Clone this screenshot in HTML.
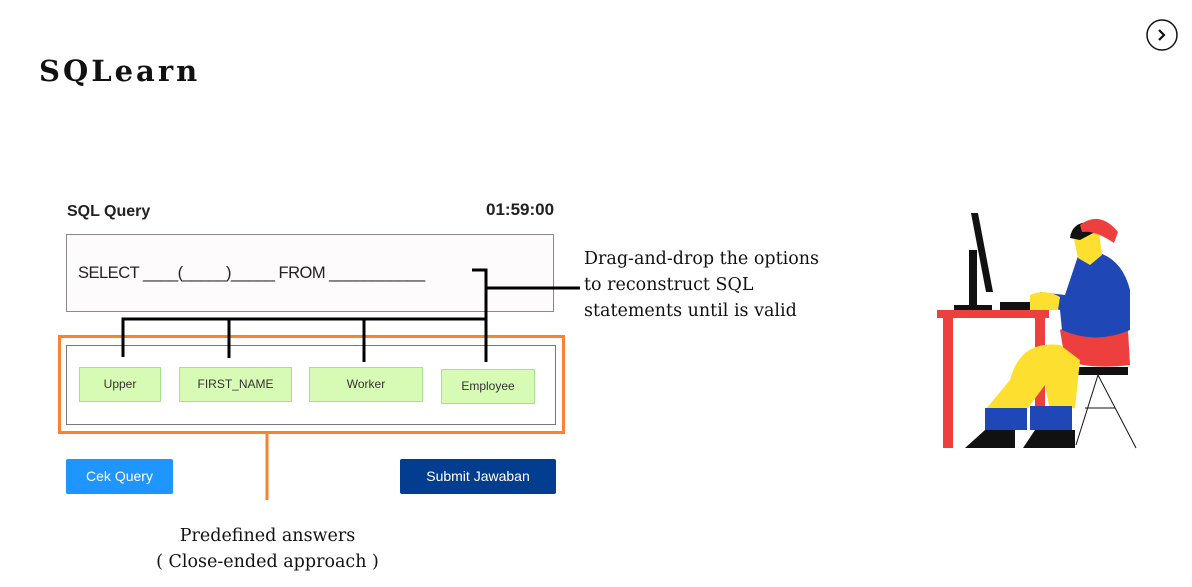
<!DOCTYPE html>
<html><head><meta charset="utf-8"><style>
body{margin:0;width:1192px;height:587px;background:#fff;position:relative;overflow:hidden;font-family:"Liberation Sans",sans-serif}
.a{position:absolute}
.t{font-family:"DejaVu Serif",serif;font-size:17.5px;color:#111;line-height:26px}
.chip{position:absolute;background:#d7fbb5;border:1.5px solid #a4e38a;font-size:12px;color:#333;text-align:center;box-sizing:border-box}
</style></head><body>
<div class="a" style="left:39px;top:54px;font-family:'DejaVu Serif',serif;font-weight:bold;font-size:29px;letter-spacing:3px;color:#111">SQLearn</div>
<svg class="a" style="left:1145px;top:19px" width="34" height="32"><circle cx="17" cy="16" r="15" fill="none" stroke="#111" stroke-width="1.5"/><path d="M14 11 L19 16 L14 21" fill="none" stroke="#111" stroke-width="2.2"/></svg>

<div class="a" style="left:67px;top:203px;font-size:16px;font-weight:bold;color:#222">SQL Query</div>
<div class="a" style="left:486px;top:200px;font-size:17px;font-weight:bold;color:#222">01:59:00</div>
<div class="a" style="left:66px;top:234px;width:488px;height:78px;border:1.5px solid #888;background:#fdfbfc;box-sizing:border-box"></div>
<div class="a" style="left:78px;top:264px;font-size:16.5px;color:#222;letter-spacing:-0.5px">SELECT ____(_____)_____ FROM ___________</div>
<div class="a" style="left:58px;top:335px;width:507px;height:99px;border:3px solid #fb8132;box-sizing:border-box"></div>
<div class="a" style="left:66px;top:345px;width:490px;height:80px;border:1.5px solid #777;box-sizing:border-box"></div>
<div class="chip" style="left:79px;top:367px;width:82px;height:35px;line-height:33px">Upper</div>
<div class="chip" style="left:179px;top:367px;width:113px;height:35px;line-height:33px">FIRST_NAME</div>
<div class="chip" style="left:309px;top:367px;width:114px;height:35px;line-height:33px">Worker</div>
<div class="chip" style="left:441px;top:369px;width:94px;height:35px;line-height:33px">Employee</div>
<div class="a" style="left:66px;top:459px;width:107px;height:35px;background:#1f95ff;color:#fff;font-size:14px;text-align:center;line-height:35px;border-radius:2px">Cek Query</div>
<div class="a" style="left:400px;top:459px;width:156px;height:35px;background:#033d8f;color:#fff;font-size:14px;text-align:center;line-height:35px;border-radius:2px">Submit Jawaban</div>

<svg class="a" style="left:0;top:0" width="1192" height="587">
<g stroke="#000" stroke-width="3" fill="none">
<path d="M472 270 H486 V362"/>
<path d="M486 288 H580"/>
<path d="M123 357 V319 H486"/>
<path d="M229 319 V358"/>
<path d="M364 319 V362"/>
</g>
<path d="M267 434 V500" stroke="#fb8132" stroke-width="3"/>
<g>
<rect x="937" y="310" width="112" height="8" fill="#ee3f3f"/>
<rect x="943" y="318" width="10" height="130" fill="#ee3f3f"/>
<rect x="1035" y="318" width="10" height="130" fill="#ee3f3f"/>
<polygon points="971,213 978,213 993,292 986,292" fill="#111"/>
<rect x="969" y="250" width="8" height="56" fill="#111"/>
<rect x="954" y="305" width="38" height="5" fill="#111"/>
<rect x="1000" y="302" width="33" height="8" fill="#111"/>
<rect x="1068" y="367" width="60" height="8" fill="#111"/>
<path d="M1098 375 L1076 445 M1098 375 L1136 448 M1085 408 H1115" stroke="#111" stroke-width="1"/>
<path d="M1060 330 Q1100 310 1128 330 L1130 365 Q1090 370 1065 360 Z" fill="#ee3f3f"/>
<path d="M1060 345 Q1020 340 1010 380 L985 410 L1025 412 L1045 385 L1050 410 L1075 408 L1080 360 Z" fill="#fde02f"/>
<rect x="985" y="408" width="42" height="22" fill="#1f47b5"/>
<rect x="1030" y="406" width="42" height="24" fill="#1f47b5"/>
<path d="M965 448 L985 430 H1015 V448 Z" fill="#111"/>
<path d="M1023 448 L1035 430 H1075 V448 Z" fill="#111"/>
<path d="M1080 250 Q1120 250 1130 290 L1130 330 Q1095 345 1062 330 L1060 310 L1035 305 L1040 292 L1065 295 Z" fill="#1f47b5"/>
<path d="M1030 295 Q1045 288 1060 297 L1058 310 L1030 310 Z" fill="#fde02f"/>
<path d="M1072 230 Q1080 222 1098 225 L1102 255 L1090 265 L1078 258 Z" fill="#fde02f"/>
<path d="M1070 238 Q1072 222 1090 222 L1095 232 L1080 240 Z" fill="#111"/>
<path d="M1080 225 Q1100 210 1118 232 L1114 243 Q1095 230 1082 232 Z" fill="#ee3f3f"/>
</g>
</svg>

<div class="a t" style="left:584px;top:246px">Drag-and-drop the options<br>to reconstruct SQL<br>statements until is valid</div>
<div class="a t" style="left:128px;top:523px;width:279px;text-align:center">Predefined answers<br>( Close-ended approach )</div>
</body></html>
